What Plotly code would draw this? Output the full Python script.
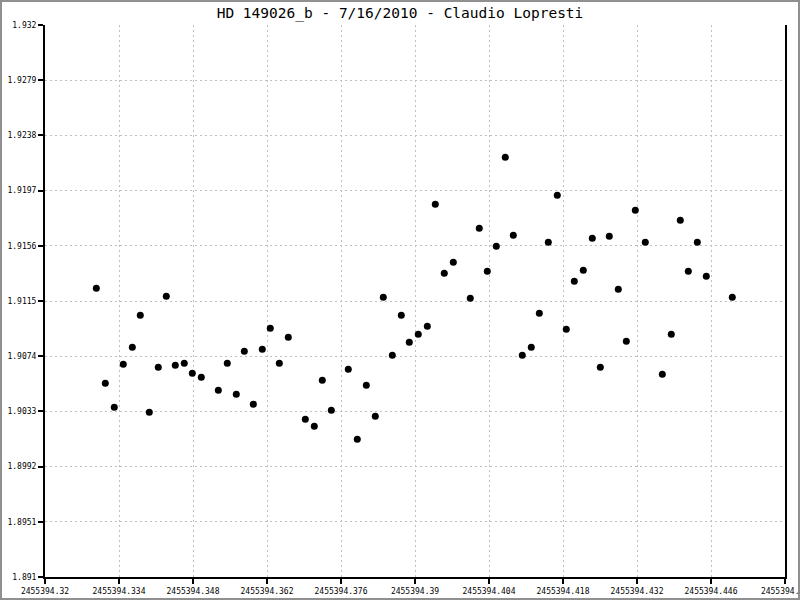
import plotly.graph_objects as go

title_text = "HD 149026_b - 7/16/2010 - Claudio Lopresti"

jd = [2455394.32971, 2455394.33141, 2455394.33311, 2455394.33481, 2455394.33652,
      2455394.33803, 2455394.33973, 2455394.34143, 2455394.34295, 2455394.34465,
      2455394.34635, 2455394.34787, 2455394.34957, 2455394.35279, 2455394.35449,
      2455394.35619, 2455394.35771, 2455394.35941, 2455394.36111, 2455394.36262,
      2455394.36433, 2455394.36603, 2455394.36925, 2455394.37095, 2455394.37246,
      2455394.37417, 2455394.37738, 2455394.37908, 2455394.38079, 2455394.38249,
      2455394.38400, 2455394.38571, 2455394.38741, 2455394.38892, 2455394.39062,
      2455394.39233, 2455394.39384, 2455394.39554, 2455394.39725, 2455394.40046,
      2455394.40216, 2455394.40368, 2455394.40538, 2455394.40708, 2455394.40860,
      2455394.41030, 2455394.41200, 2455394.41352, 2455394.41522, 2455394.41692,
      2455394.41862, 2455394.42014, 2455394.42184, 2455394.42354, 2455394.42506,
      2455394.42676, 2455394.42846, 2455394.42998, 2455394.43168, 2455394.43357,
      2455394.43679, 2455394.43849, 2455394.44019, 2455394.44171, 2455394.44341,
      2455394.44511, 2455394.45003]

flux = [1.91244, 1.90539, 1.90360, 1.90680, 1.90806,
        1.91044, 1.90323, 1.90658, 1.91185, 1.90672,
        1.90687, 1.90613, 1.90583, 1.90487, 1.90687,
        1.90457, 1.90776, 1.90383, 1.90791, 1.90947,
        1.90687, 1.90880, 1.90271, 1.90219, 1.90561,
        1.90338, 1.90643, 1.90123, 1.90524, 1.90294,
        1.91177, 1.90747, 1.91044, 1.90843, 1.90903,
        1.90962, 1.91868, 1.91356, 1.91437, 1.91170,
        1.91690, 1.91371, 1.91556, 1.92217, 1.91638,
        1.90747, 1.90806, 1.91059, 1.91586, 1.91935,
        1.90940, 1.91296, 1.91378, 1.91616, 1.90658,
        1.91631, 1.91237, 1.90851, 1.91824, 1.91586,
        1.90606, 1.90903, 1.91749, 1.91371, 1.91586,
        1.91333, 1.91177]

x_tickvals = [2455394.32, 2455394.334, 2455394.348, 2455394.362, 2455394.376,
              2455394.39, 2455394.404, 2455394.418, 2455394.432, 2455394.446,
              2455394.46]
x_ticktext = ["2455394.32", "2455394.334", "2455394.348", "2455394.362", "2455394.376",
              "2455394.39", "2455394.404", "2455394.418", "2455394.432", "2455394.446",
              "2455394.46"]
y_tickvals = [1.891, 1.8951, 1.8992, 1.9033, 1.9074, 1.9115, 1.9156, 1.9197,
              1.9238, 1.9279, 1.932]
y_ticktext = ["1.891", "1.8951", "1.8992", "1.9033", "1.9074", "1.9115", "1.9156",
              "1.9197", "1.9238", "1.9279", "1.932"]

mono = "DejaVu Sans Mono"

fig = go.Figure()
fig.add_trace(go.Scatter(
    x=jd, y=flux, mode="markers",
    marker=dict(color="black", size=7, line=dict(width=0)),
    showlegend=False, hoverinfo="x+y"))

fig.update_layout(
    width=800, height=600,
    paper_bgcolor="white", plot_bgcolor="white",
    margin=dict(l=45, r=15, t=25, b=23, autoexpand=False),
    title=dict(text=title_text, x=0.5, xanchor="center", y=1 - 13 / 600,
               yanchor="middle", font=dict(family=mono, size=14.5, color="black")),
    font=dict(family=mono, size=8, color="black"),
    shapes=[dict(type="rect", xref="paper", yref="paper",
                 x0=-44 / 740, x1=1 + 14 / 740, y0=-22 / 552, y1=1 + 24 / 552,
                 line=dict(color="#909090", width=2), layer="below")],
)
fig.update_xaxes(
    range=[2455394.32, 2455394.46], tickvals=x_tickvals, ticktext=x_ticktext,
    showgrid=True, gridcolor="#c0c0c0", griddash="2px,3px", gridwidth=1,
    showline=True, linecolor="black", linewidth=2, mirror=False,
    ticks="outside", ticklen=5, tickcolor="black", tickwidth=2,
    tickfont=dict(family=mono, size=8, color="black"), zeroline=False,
    automargin=False, ticklabeloverflow="allow",
)
fig.update_yaxes(
    range=[1.891, 1.932], tickvals=y_tickvals, ticktext=y_ticktext,
    showgrid=True, gridcolor="#c0c0c0", griddash="2px,3px", gridwidth=1,
    showline=True, linecolor="black", linewidth=2, mirror=True,
    ticks="outside", ticklen=5, tickcolor="black", tickwidth=2,
    tickfont=dict(family=mono, size=8, color="black"), zeroline=False,
    automargin=False, ticklabeloverflow="allow",
)

fig.write_html("out.html", config={"displayModeBar": False},
               post_script="document.body.style.margin='0';document.body.style.overflow='hidden';")
